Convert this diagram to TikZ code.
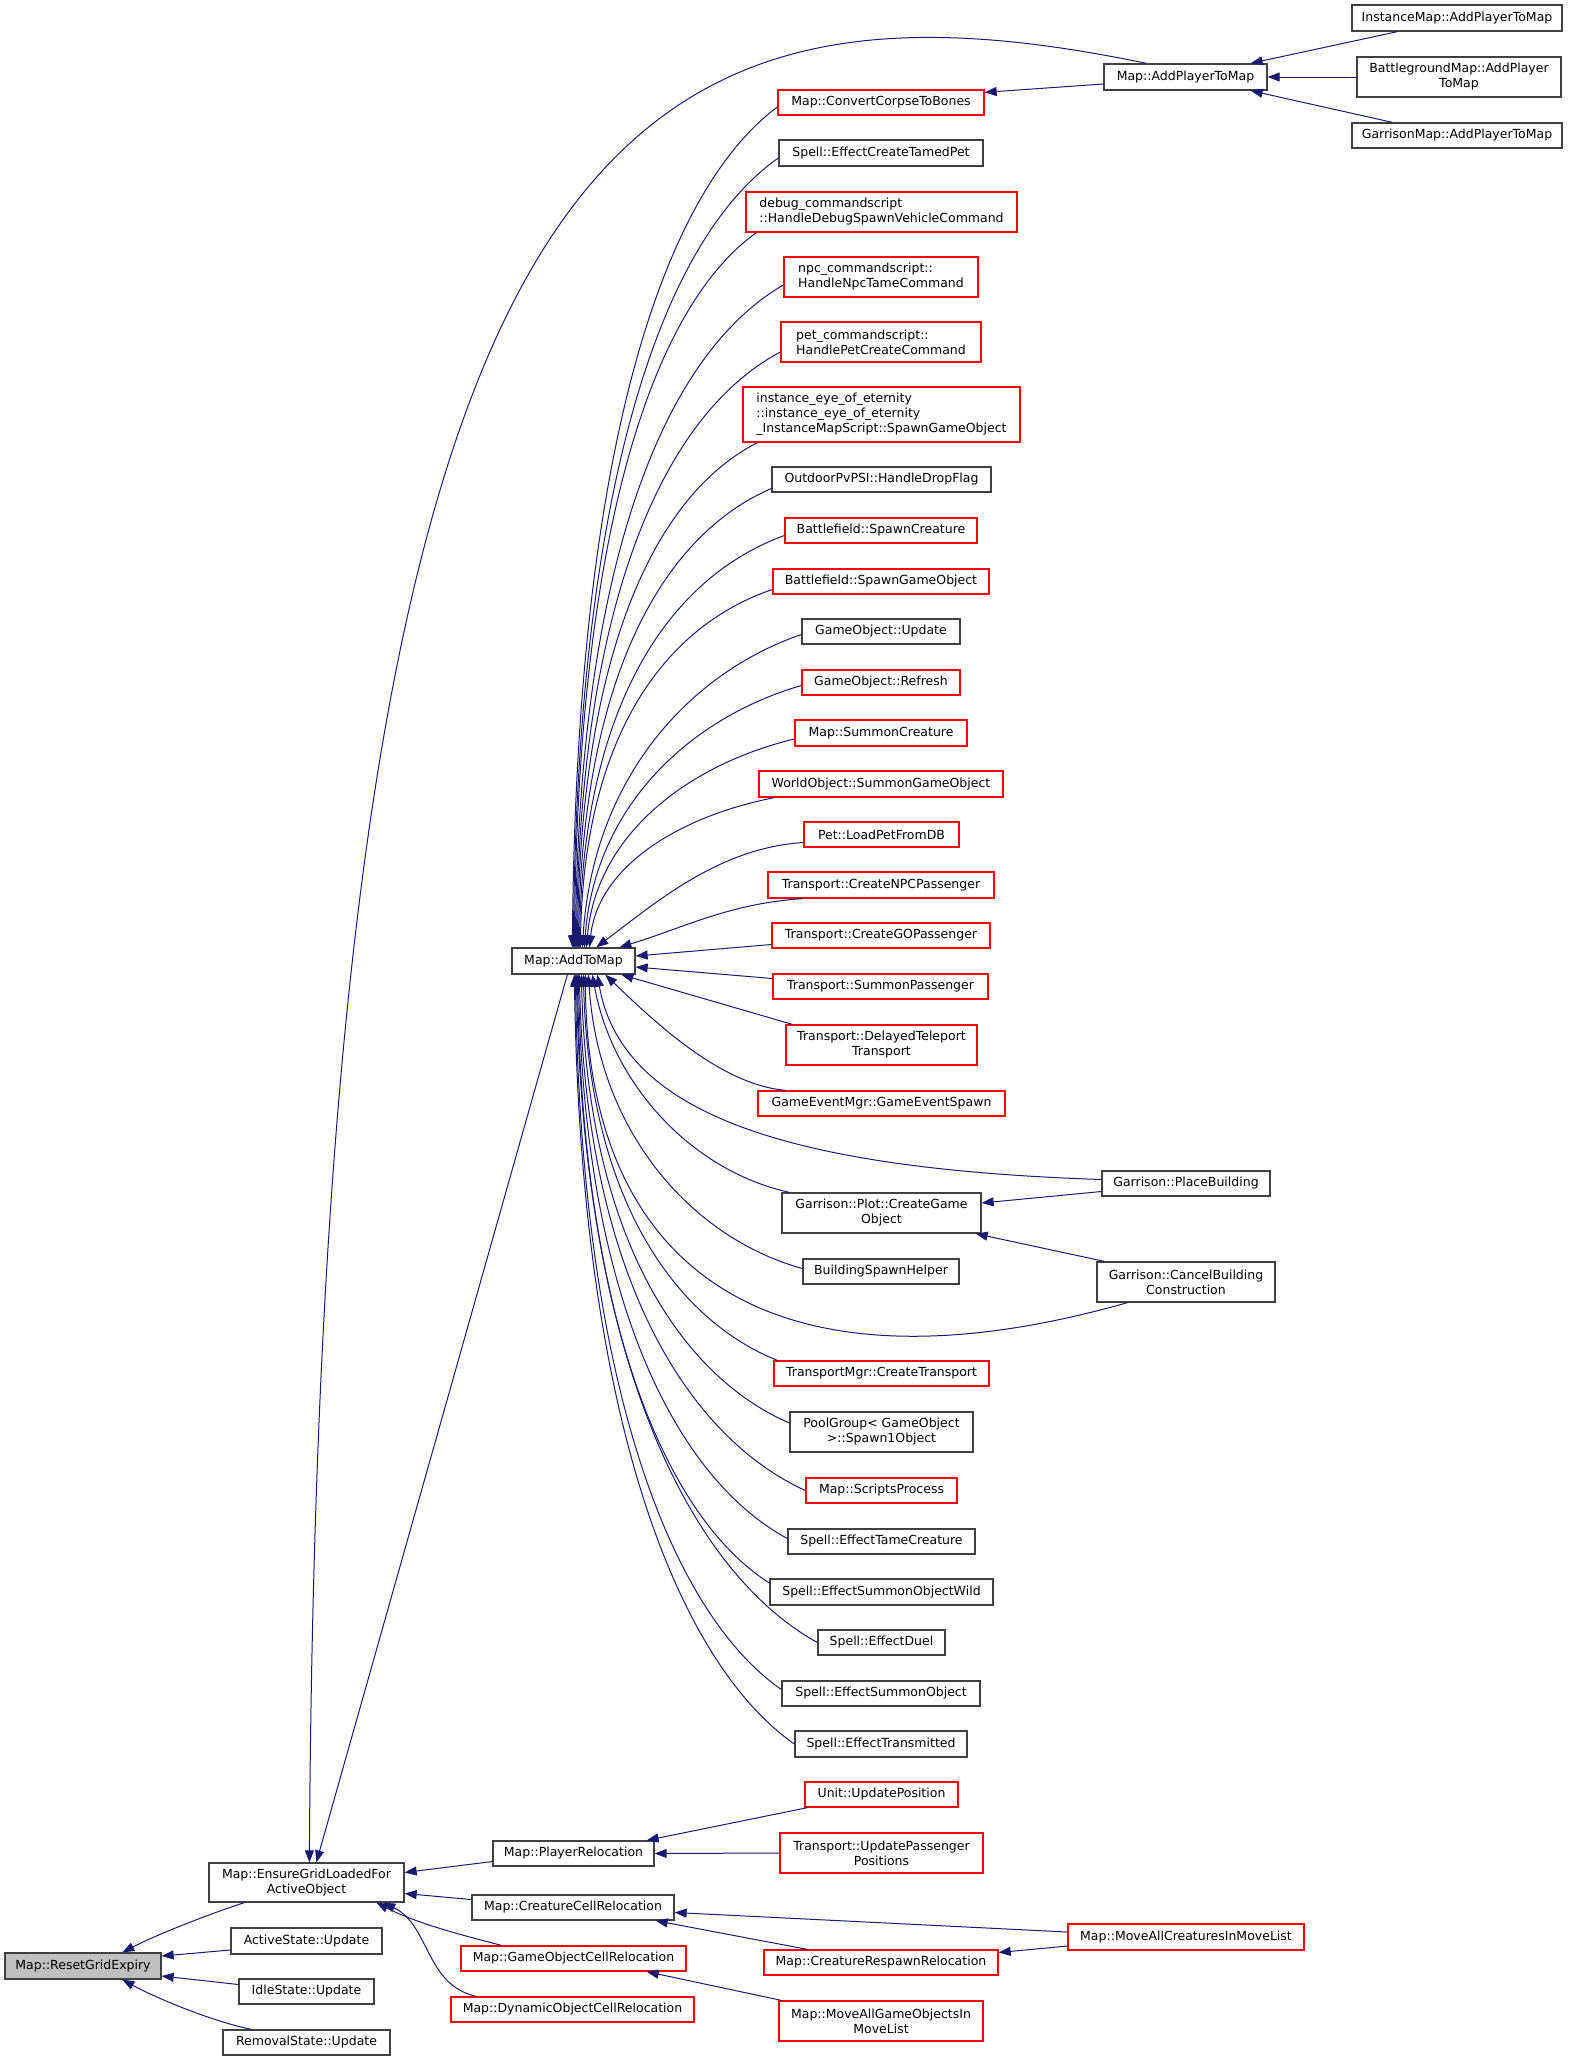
\documentclass[tikz,border=0pt]{standalone}
\usepackage{fontspec}
\setmainfont{DejaVu Sans}
\usetikzlibrary{calc,arrows.meta}
\definecolor{edgec}{HTML}{191970}
\definecolor{boxk}{HTML}{404040}
\definecolor{boxr}{HTML}{FF0000}
\definecolor{fillg}{HTML}{BFBFBF}
\newcommand\bxnode[7]{\node[#6, minimum width={(#4-#2)*0.5pt}, minimum height={(#5-#3)*0.5pt}] (#1) at ({(#2+#4)/2},{(#3+#5)/2}) {#7};}
\newcommand\fan[6]{\draw[cedge] let \p1=(#1), \p2=(#2) in (\p1) .. controls ({\x1+#3*(\x2-\x1)},{\y1+#4*(\y2-\y1)}) and ({\x2-#5*(\x2-\x1)},{\y2-#6*(\y2-\y1)}) .. (\p2);}
\begin{document}
\begin{tikzpicture}[x=0.5pt,y=-0.5pt,
 bx/.style={draw=boxk, line width=0.65pt, fill=white, inner sep=0pt, font=\fontsize{6.25}{7.5}\selectfont, text=black, align=center},
 rb/.style={bx, draw=boxr},
 lb/.style={align=left},
 cedge/.style={draw=edgec, line width=0.5pt, {Triangle[length=6pt,width=4.5pt]}-}]
\useasboundingbox (0,0) rectangle (1572,2061);
\fill[white] (0,0) rectangle (1572,2061);
% nodes
\bxnode{reset}{5}{1953}{161}{1979}{bx,fill=fillg}{Map::ResetGridExpiry}
\bxnode{ensure}{209}{1863}{404}{1902}{bx}{Map::EnsureGridLoadedFor\\ActiveObject}
\bxnode{active}{231}{1928}{382}{1954}{bx}{ActiveState::Update}
\bxnode{idle}{239}{1979}{374}{2004}{bx}{IdleState::Update}
\bxnode{removal}{223}{2030}{390}{2055}{bx}{RemovalState::Update}
\bxnode{atm}{512}{948}{635}{974}{bx}{Map::AddToMap}
\bxnode{playerreloc}{493}{1841}{654}{1866}{bx}{Map::PlayerRelocation}
\bxnode{creaturecell}{472}{1895}{674}{1920}{bx}{Map::CreatureCellRelocation}
\bxnode{gocell}{461}{1946}{686}{1971}{rb}{Map::GameObjectCellRelocation}
\bxnode{dyncell}{451}{1997}{694}{2022}{rb}{Map::DynamicObjectCellRelocation}
\bxnode{unitpos}{805}{1782}{958}{1807}{rb}{Unit::UpdatePosition}
\bxnode{transpass}{780}{1833}{983}{1873}{rb}{Transport::UpdatePassenger\\Positions}
\bxnode{moveallcr}{1068}{1924}{1304}{1950}{rb}{Map::MoveAllCreaturesInMoveList}
\bxnode{respawn}{764}{1950}{998}{1975}{rb}{Map::CreatureRespawnRelocation}
\bxnode{movealgo}{779}{2001}{983}{2041}{rb}{Map::MoveAllGameObjectsIn\\MoveList}
\bxnode{addplayer}{1104}{64}{1267}{90}{bx}{Map::AddPlayerToMap}
\bxnode{instmap}{1352}{5}{1562}{31}{bx}{InstanceMap::AddPlayerToMap}
\bxnode{bgmap}{1357}{57}{1561}{97}{bx}{BattlegroundMap::AddPlayer\\ToMap}
\bxnode{garmap}{1352}{123}{1562}{148}{bx}{GarrisonMap::AddPlayerToMap}
\bxnode{convert}{778}{90}{984}{115}{rb}{Map::ConvertCorpseToBones}
\bxnode{tamedpet}{779}{140}{983}{166}{bx}{Spell::EffectCreateTamedPet}
\bxnode{debug}{746}{192}{1017}{232}{rb,lb}{debug\_commandscript\\::HandleDebugSpawnVehicleCommand}
\bxnode{npc}{784}{257}{978}{297}{rb,lb}{npc\_commandscript::\\HandleNpcTameCommand}
\bxnode{pet}{781}{322}{981}{362}{rb,lb}{pet\_commandscript::\\HandlePetCreateCommand}
\bxnode{inst}{743}{387}{1020}{442}{rb,lb}{instance\_eye\_of\_eternity\\::instance\_eye\_of\_eternity\\\_InstanceMapScript::SpawnGameObject}
\bxnode{outdoor}{772}{467}{991}{492}{bx}{OutdoorPvPSI::HandleDropFlag}
\bxnode{bfcre}{785}{518}{977}{543}{rb}{Battlefield::SpawnCreature}
\bxnode{bfgo}{773}{569}{989}{594}{rb}{Battlefield::SpawnGameObject}
\bxnode{goupd}{802}{619}{960}{644}{bx}{GameObject::Update}
\bxnode{goref}{802}{670}{960}{695}{rb}{GameObject::Refresh}
\bxnode{sumcre}{795}{720}{967}{746}{rb}{Map::SummonCreature}
\bxnode{wosgo}{759}{771}{1003}{797}{rb}{WorldObject::SummonGameObject}
\bxnode{petload}{804}{822}{959}{847}{rb}{Pet::LoadPetFromDB}
\bxnode{npcpass}{768}{872}{994}{898}{rb}{Transport::CreateNPCPassenger}
\bxnode{gopass}{772}{923}{990}{948}{rb}{Transport::CreateGOPassenger}
\bxnode{sumpass}{773}{974}{988}{999}{rb}{Transport::SummonPassenger}
\bxnode{delayed}{786}{1025}{977}{1065}{rb}{Transport::DelayedTeleport\\Transport}
\bxnode{gesp}{758}{1091}{1005}{1116}{rb}{GameEventMgr::GameEventSpawn}
\bxnode{place}{1102}{1171}{1270}{1196}{bx}{Garrison::PlaceBuilding}
\bxnode{plot}{782}{1193}{981}{1233}{bx}{Garrison::Plot::CreateGame\\Object}
\bxnode{bsh}{803}{1259}{959}{1284}{bx}{BuildingSpawnHelper}
\bxnode{cancel}{1097}{1262}{1275}{1302}{bx}{Garrison::CancelBuilding\\Construction}
\bxnode{tmgr}{774}{1361}{989}{1386}{rb}{TransportMgr::CreateTransport}
\bxnode{pool}{790}{1412}{973}{1452}{bx}{PoolGroup< GameObject\\>::Spawn1Object}
\bxnode{scripts}{806}{1478}{957}{1503}{rb}{Map::ScriptsProcess}
\bxnode{tame}{788}{1529}{975}{1554}{bx}{Spell::EffectTameCreature}
\bxnode{sow}{770}{1579}{993}{1605}{bx}{Spell::EffectSummonObjectWild}
\bxnode{duel}{818}{1630}{945}{1655}{bx}{Spell::EffectDuel}
\bxnode{sumobj}{782}{1681}{980}{1706}{bx}{Spell::EffectSummonObject}
\bxnode{transm}{795}{1731}{967}{1757}{bx}{Spell::EffectTransmitted}
% edges to ResetGridExpiry
\draw[cedge] ($(reset.north west)+(118,0)$) .. controls (160,1933) and (215,1912) .. ($(ensure.south west)+(36,0)$);
\draw[cedge] ($(reset.east)+(0,-10)$) -- ($(active.west)+(0,9)$);
\draw[cedge] ($(reset.east)+(0,10)$) -- ($(idle.west)+(0,-7)$);
\draw[cedge] ($(reset.south west)+(118,0)$) .. controls (160,2000) and (215,2022) .. ($(removal.north west)+(29,0)$);
% edges to EnsureGridLoadedForActiveObject
\draw[cedge] ($(ensure.north west)+(101,0)$) .. controls (320,150) and (600,-50) .. ($(addplayer.north west)+(43,0)$);
\draw[cedge] ($(ensure.north west)+(108,0)$) -- ($(atm.south west)+(56,0)$);
\draw[cedge] ($(ensure.east)+(0,-10)$) -- ($(playerreloc.west)+(0,8)$);
\draw[cedge] ($(ensure.east)+(0,11)$) -- ($(creaturecell.west)+(0,-8)$);
\draw[cedge] ($(ensure.south west)+(168,0)$) .. controls (420,1925) and (470,1937) .. ($(gocell.north west)+(41,0)$);
\draw[cedge] ($(ensure.south west)+(175,0)$) .. controls (430,1925) and (425,1985) .. ($(dyncell.north west)+(26,0)$);
% relocation edges
\draw[cedge] ($(playerreloc.north east)+(-8,0)$) -- ($(unitpos.south west)+(3,0)$);
\draw[cedge] (playerreloc.east) -- (transpass.west);
\draw[cedge] ($(creaturecell.east)+(0,5)$) -- ($(moveallcr.west)+(0,-5)$);
\draw[cedge] ($(creaturecell.south east)+(-19,0)$) -- ($(respawn.north west)+(44,0)$);
\draw[cedge] ($(respawn.east)+(0,-10)$) -- ($(moveallcr.west)+(0,9)$);
\draw[cedge] ($(gocell.south east)+(-40,0)$) -- ($(movealgo.north west)+(3,0)$);
% AddPlayerToMap edges
\draw[cedge] ($(addplayer.north east)+(-17,0)$) -- ($(instmap.south west)+(46,0)$);
\draw[cedge] (addplayer.east) -- (bgmap.west);
\draw[cedge] ($(addplayer.south east)+(-17,0)$) -- ($(garmap.north west)+(41,0)$);
\draw[cedge] ($(convert.north east)+(0,3)$) -- ($(addplayer.west)+(0,7)$);
% Plot edges
\draw[cedge] ($(plot.east)+(0,-10)$) -- ($(place.west)+(0,8)$);
\draw[cedge] ($(plot.south east)+(-6,0)$) -- ($(cancel.north west)+(8,0)$);
% fan from AddToMap (upper)
\fan{$(atm.north west)+(61,0)$}{$(convert.west)+(0,4.5)$}{0.02}{0.6}{0.55}{0.1}
\fan{$(atm.north west)+(62,0)$}{$(tamedpet.west)+(0,5)$}{0.02}{0.6}{0.55}{0.1}
\fan{$(atm.north west)+(63,0)$}{$(debug.south west)+(11,0)$}{0.02}{0.6}{0.55}{0.1}
\fan{$(atm.north west)+(64,0)$}{$(npc.west)+(0,8)$}{0.02}{0.6}{0.55}{0.1}
\fan{$(atm.north west)+(65,0)$}{$(pet.west)+(0,10)$}{0.02}{0.6}{0.55}{0.1}
\fan{$(atm.north west)+(66,0)$}{$(inst.south west)+(15,0)$}{0.02}{0.6}{0.55}{0.1}
\fan{$(atm.north west)+(67,0)$}{$(outdoor.west)+(0,9)$}{0.02}{0.6}{0.55}{0.1}
\fan{$(atm.north west)+(68,0)$}{$(bfcre.west)+(0,5)$}{0.02}{0.6}{0.55}{0.1}
\fan{$(atm.north west)+(69,0)$}{$(bfgo.west)+(0,8)$}{0.02}{0.6}{0.55}{0.1}
\fan{$(atm.north west)+(71,0)$}{$(goupd.west)+(0,3)$}{0.05}{0.55}{0.5}{0.12}
\fan{$(atm.north west)+(73,0)$}{$(goref.west)+(0,3)$}{0.05}{0.55}{0.5}{0.12}
\fan{$(atm.north west)+(75,0)$}{$(sumcre.west)+(0,6)$}{0.05}{0.55}{0.5}{0.12}
\fan{$(atm.north west)+(78,0)$}{$(wosgo.south west)+(16,0)$}{0.05}{0.55}{0.5}{0.12}
\fan{$(atm.north west)+(85,0)$}{$(petload.west)+(0,8)$}{0.3}{0.45}{0.4}{0.05}
\fan{$(atm.north west)+(108,0)$}{$(npcpass.south west)+(35,0)$}{0.35}{0.4}{0.4}{0.1}
\fan{$(atm.east)+(0,-5)$}{$(gopass.west)+(0,9)$}{0.3}{0.3}{0.3}{0.3}
% fan from AddToMap (lower)
\fan{$(atm.east)+(0,6)$}{$(sumpass.west)+(0,-8)$}{0.3}{0.3}{0.3}{0.3}
\fan{$(atm.south west)+(110,0)$}{$(delayed.north west)+(7,0)$}{0.3}{0.3}{0.3}{0.3}
\fan{$(atm.south west)+(94,0)$}{$(gesp.north west)+(28,0)$}{0.3}{0.45}{0.35}{0.05}
\fan{$(atm.south west)+(86,0)$}{$(place.west)+(0,-4)$}{0.05}{0.7}{0.6}{0.05}
\fan{$(atm.south west)+(81,0)$}{$(plot.north west)+(8,0)$}{0.1}{0.5}{0.5}{0.1}
\fan{$(atm.south west)+(77,0)$}{$(bsh.west)+(0,-3)$}{0.05}{0.55}{0.5}{0.1}
\fan{$(atm.south west)+(74,0)$}{$(cancel.south west)+(31,0)$}{0.004}{0.93}{0.64}{-0.3}
\fan{$(atm.south west)+(72,0)$}{$(tmgr.north west)+(4,0)$}{0.03}{0.6}{0.5}{0.1}
\fan{$(atm.south west)+(70,0)$}{$(pool.west)+(0,-9)$}{0.03}{0.6}{0.5}{0.1}
\fan{$(atm.south west)+(68,0)$}{$(scripts.west)$}{0.03}{0.6}{0.5}{0.1}
\fan{$(atm.south west)+(67,0)$}{$(tame.west)+(0,-3)$}{0.03}{0.6}{0.5}{0.1}
\fan{$(atm.south west)+(66,0)$}{$(sow.west)+(0,-9)$}{0.03}{0.6}{0.5}{0.1}
\fan{$(atm.south west)+(65,0)$}{$(duel.west)$}{0.03}{0.6}{0.5}{0.1}
\fan{$(atm.south west)+(64,0)$}{$(sumobj.west)+(0,-4)$}{0.03}{0.6}{0.5}{0.1}
\fan{$(atm.south west)+(63,0)$}{$(transm.west)$}{0.03}{0.6}{0.5}{0.1}
\end{tikzpicture}
\end{document}
